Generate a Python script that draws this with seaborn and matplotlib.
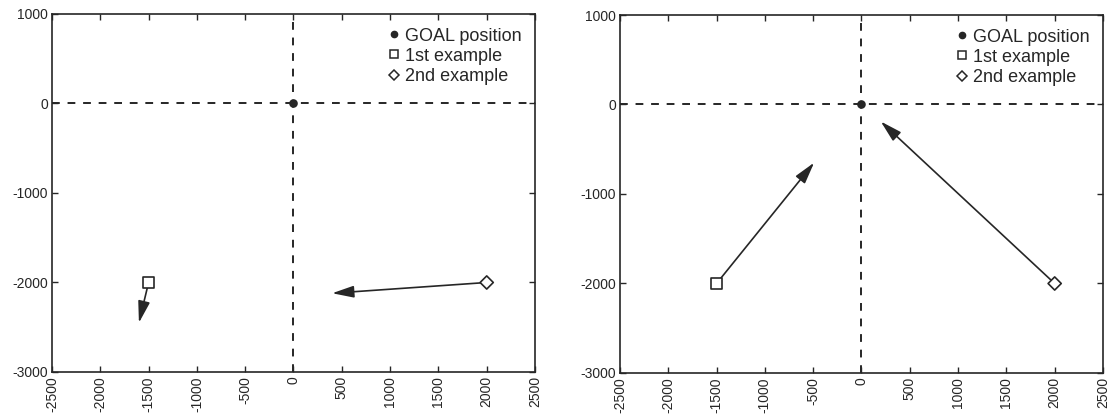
import matplotlib
matplotlib.use("Agg")
import matplotlib.pyplot as plt
import seaborn as sns
import pandas as pd
from matplotlib.lines import Line2D

sns.set_theme(style="ticks")
plt.rcParams['font.family'] = ['Liberation Sans', 'DejaVu Sans']
plt.rcParams['axes.unicode_minus'] = False

# data
goal_xy = [0, 0]
ex1_start = [-1500, -2000]
ex2_start = [2000, -2000]
# arrow tips (estimated vector end points) for each panel
left_ex1_tip = [-1600, -2450]
left_ex2_tip = [400, -2120]
right_ex1_tip = [-490, -650]
right_ex2_tip = [200, -190]
x_ticks = [-2500, -2000, -1500, -1000, -500, 0, 500, 1000, 1500, 2000, 2500]
y_ticks = [1000, 0, -1000, -2000, -3000]
labels = ["GOAL position", "1st example", "2nd example"]

ink = "#262626"

fig = plt.figure(figsize=(11.13, 4.19), dpi=100)
ax1 = fig.add_axes([0.0467, 0.1122, 0.434, 0.8544])
ax2 = fig.add_axes([0.557, 0.1098, 0.434, 0.8544])

panels = [(ax1, left_ex1_tip, left_ex2_tip), (ax2, right_ex1_tip, right_ex2_tip)]

pts = pd.DataFrame({
    "x": [goal_xy[0], ex1_start[0], ex2_start[0]],
    "y": [goal_xy[1], ex1_start[1], ex2_start[1]],
    "kind": labels,
})

for ax, t1, t2 in panels:
    ax.axhline(0, color=ink, ls=(0, (4, 4)), lw=1.4, zorder=1)
    ax.axvline(0, color=ink, ls=(0, (4, 4)), lw=1.4, zorder=1)
    for start, tip in [(ex1_start, t1), (ex2_start, t2)]:
        ax.annotate("", xy=tip, xytext=start,
                    arrowprops=dict(arrowstyle="-|>,head_length=1.1,head_width=0.3",
                                    color=ink, lw=1.2, shrinkA=4, shrinkB=0,
                                    mutation_scale=12), zorder=2)
    sns.scatterplot(data=pts, x="x", y="y", style="kind", hue="kind",
                    markers={"GOAL position": "o", "1st example": "s", "2nd example": "D"},
                    palette={k: ink for k in labels},
                    s=[25, 55, 45], ax=ax, zorder=3, legend=False)
    coll = ax.collections[-1]
    coll.set_facecolors([ink, "white", "white"])
    coll.set_edgecolors([ink, ink, ink])
    coll.set_linewidths(1.2)

    ax.set_xlim(-2500, 2500)
    ax.set_ylim(-3000, 1000)
    ax.set_xticks(x_ticks)
    ax.set_xticklabels([str(v) for v in x_ticks], rotation=90)
    ax.set_yticks(y_ticks)
    ax.set_yticklabels([str(v) for v in y_ticks])
    ax.set_xlabel("")
    ax.set_ylabel("")
    ax.tick_params(direction="in", length=4, width=1, top=True, right=True,
                   labelsize=10, colors=ink, pad=3)
    for sp in ax.spines.values():
        sp.set_visible(True)
        sp.set_color(ink)
        sp.set_linewidth(1.2)

    handles = [
        Line2D([], [], ls="", marker="o", ms=4.5, mfc=ink, mec=ink),
        Line2D([], [], ls="", marker="s", ms=6, mfc="white", mec=ink, mew=1.1),
        Line2D([], [], ls="", marker="D", ms=5.5, mfc="white", mec=ink, mew=1.1),
    ]
    ax.legend(handles, labels, loc="upper right", frameon=False, fontsize=13,
              handlelength=0.6, handletextpad=0.3, labelspacing=0.18,
              borderaxespad=0.35, labelcolor=ink)

fig.savefig("out.png", dpi=100)
